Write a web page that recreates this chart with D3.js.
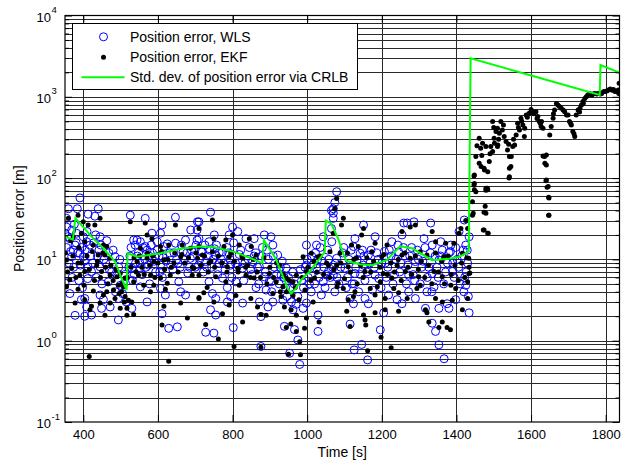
<!DOCTYPE html>
<html><head><meta charset="utf-8">
<script src="https://cdn.jsdelivr.net/npm/d3@7"></script>
<style>body{margin:0;background:#fff}svg{display:block}text{font-family:"Liberation Sans",Arial,sans-serif;fill:#000}</style>
</head><body><svg id="c" width="629" height="464"></svg>
<script>
const xTicks=[400,600,800,1000,1200,1400,1600,1800];
const yDecades=[-1,0,1,2,3,4];
const legendLabels=["Position error, WLS","Position error, EKF","Std. dev. of position error via CRLB"];
const xLabel="Time [s]", yLabel="Position error [m]";

const crlbTime=[351,372,379,400,427,454,485,505,516,519,544,607,660,714,746,809,854,880,884,916,948,957,970,984,1007,1047,1050,1064,1083,1096,1105,1140,1173,1213,1249,1281,1335,1380,1407,1433,1438,1600,1784,1786,1837];
const crlbStd=[19,17.5,32,25,18,13.7,9.4,5.5,4.2,11.9,10.8,11.9,13.5,14.4,14.3,12.2,10.1,9.0,17.3,10.1,4.4,3.8,4.4,5.6,7.1,12.3,30,27.8,18,12,9.6,8.7,8.5,9.8,14.5,13.7,9.8,10.2,10.7,12.5,2975,1830,1052,2460,1980];

const wlsPoints=[
[391,57],[360,42],[384,42],[440,42],[413,36],[355,32],[431,34],[526,35],[566,32],[647,33],[710,29],[355,25],[351,21],[369,23],[382,21],[364,18],[400,19],[409,16.5],[445,19],[378,15],[373,13],[391,11.9],[369,10.8],[400,10.8],[413,8.1],[422,7.1],[445,8.1],[485,10.8],[351,5.1],[467,5.3],[499,4.8],[535,17.3],[539,15],[553,16.5],[566,14.4],[571,13],[598,16.5],[607,21],[616,14.4],[647,15.8],[674,17.3],[705,23],[705,17.3],[656,5.3],[530,7.8],[553,7.8],[575,8.5],[607,8.5],[687,10.3],
[611,26.5],[688,23],[584,21],[544,17.3],[1074,50],[1065,40],
[364,3.8],[404,3.3],[395,3.2],[409,2.6],[445,3.65],[454,3.2],[449,2.5],[472,2.6],[494,3.3],[530,2.5],[378,2.05],[404,2.0],[422,2.07],[494,1.8],[571,3.0],[607,4.4],[620,3.65],[661,4.0],[674,3.65],[611,2.15],[629,1.42],[652,1.48],[553,4.6],
[741,38],[706,29],[710,18],[737,16.5],[751,20],[800,25],[814,22],[791,20],[836,18],[858,18],[885,20],[903,19],[908,15],[921,11.3],[773,12.4],[755,11.3],[719,12.4],[728,9.4],[764,9.0],[795,8.5],[827,7.8],[854,9.4],[872,8.1],[885,6.1],[903,5.3],[930,6.4],[944,7.8],[773,5.9],[809,5.3],[998,15],[1025,15],[1043,19],[1070,42],[1070,32],[1066,16.5],[998,8.5],[1025,7.8],[1011,6.4],[1043,5.3],[1057,7.1],[863,4.5],[737,5.3],[786,4.5],
[746,3.8],[755,3.3],[741,2.4],[755,2.07],[786,3.0],[795,3.5],[827,2.9],[872,3.0],[876,1.98],[895,2.6],[908,3.0],[935,3.15],[728,1.27],[750,1.24],[802,1.45],[876,0.85],[939,1.5],[966,1.37],[975,1.02],[953,0.70],[980,0.51],[989,2.5],[998,2.9],[1011,4.0],[1038,3.65],[1029,2.07],[1029,1.3],[890,4.2],[962,2.4],
[1079,68],[1070,37],[1065,24],[1151,26.5],[1128,18],[1124,14.4],[1142,11.9],[1182,19],[1164,11.3],[1227,16.5],[1259,28],[1268,28],[1286,29],[1331,28],[1313,18],[1335,15],[1358,16.5],[1385,15],[1407,22],[1421,30.5],[1425,15],[1430,9.0],[1254,20],[1245,12.4],[1079,10.3],[1101,7.8],[1128,6.7],[1182,6.4],[1151,8.5],[1209,9.0],[1290,9.4],[1353,9.8],[1389,7.1],[1070,6.4],[1272,6.4],[1335,6.7],[1425,4.8],[1434,19],
[1074,4.0],[1115,3.3],[1124,2.85],[1115,1.6],[1155,3.3],[1164,2.85],[1196,1.36],[1205,2.2],[1218,3.65],[1241,3.2],[1254,2.85],[1290,3.3],[1317,2.5],[1335,1.64],[1344,1.3],[1321,4.0],[1353,2.5],[1380,2.5],[1375,2.85],[1398,3.2],[1434,2.2],[1420,4.0],[1146,0.9],[1126,0.77],[1162,0.58],[1353,0.89],[1367,0.6],[1272,4.0],
[355,14],[362,9],[370,6],[376,27],[385,12],[392,8.5],[398,4.5],[405,13],[412,5.8],[420,11],[428,16],[435,6],[442,13],[450,5],[460,9],[468,12],[476,7],[486,4],[495,8],[505,3.8],[512,6.5],[525,11],[532,5.5],[540,9],[548,12],[558,6.5],[565,10],[578,5],[585,12],[594,7],[603,11],[612,6],[622,9.5],[632,12],[640,7.5],[650,10],[660,8],[668,12.5],[680,6.8],[690,13],[700,8],[712,10],[722,7],[733,11],[744,8],[752,13.5],[760,6.5],[770,10],[780,7.5],[790,12],[798,6],[808,9],[818,11.5],[830,5.5],[842,10],[852,6.5],[862,12],[870,5],[880,14],[888,7],[896,10],[905,4],[912,8],[925,5],[933,9.5],[942,4.5],[950,6],[958,3],[965,5],[975,3.5],[982,7.5],[990,4.5],[1000,10],[1006,5],[1015,8.5],[1022,12],[1032,6],[1040,9.5],[1048,4.5],[1055,13],[1062,6],[1075,9],[1085,5],[1095,12],[1105,4.5],[1112,10],[1120,5],[1130,8],[1138,4],[1148,13],[1155,5.5],[1168,9],[1175,4.2],[1186,12],[1192,5.8],[1200,9],[1212,6],[1220,13],[1230,5],[1238,10],[1248,7],[1258,14],[1266,5],[1275,11],[1284,6.5],[1295,13],[1303,5],[1310,9.5],[1322,6],[1330,12],[1340,4.6],[1348,8],[1358,11],[1366,5],[1376,9],[1384,12.5],[1394,6],[1402,10],[1410,5],[1418,13],[1426,7],[1432,3.5],
[358,19],[366,12.5],[374,8],[381,16],[388,5.5],[396,14],[403,9.5],[410,22],[418,15],[425,9],[433,20],[438,11],[447,15],[455,10],[463,17],[470,7.5],[480,13],[490,6.5],[498,10],[508,5],[515,3],[522,8],[528,14],[537,6.5],[545,11],[552,9],[560,14],[568,8],[576,11],[582,15],[590,9.5],[598,13],[605,7],[614,10.5],[625,15.5],[634,8.5],[643,12],[654,9],[663,15],[671,10],[678,12],[685,8],[694,11],[702,15],[709,8.5],[716,12.5],[726,15],[731,8],[739,13],[748,10],[757,15],[764,12],[776,9],[785,14],[793,10],[803,16],[812,8],[822,13],[833,9],[845,14],[849,7.5],[858,11],[867,8],[878,11],[892,13],[899,5.5],[909,11],[918,6.5],[928,8],[938,6],[946,3.5],[954,4.5],[961,7],[970,2.8],[985,5.5],[994,8],[1003,6],[1012,11],[1020,5],[1028,10],[1035,14],[1045,8],[1052,6.5],[1058,10],[1068,8],[1080,6],[1090,8],[1098,14],[1108,6],[1118,13],[1126,5],[1134,10],[1143,6.5],[1152,11],[1160,7],[1171,13],[1180,8],[1190,10],[1198,4.5],[1207,12.5],[1216,8],[1225,11],[1234,6.5],[1243,15],[1251,9],[1262,11],[1270,8.5],[1280,14],[1288,5.5],[1298,10],[1307,8],[1316,14],[1326,8],[1334,4],[1343,11],[1351,6],[1362,13],[1371,7],[1380,12],[1390,9],[1398,14],[1406,8],[1414,11],[1422,6],[1429,13]
];

const ekfPoints=[
[360,32],[386,35],[400,29],[413,26.5],[431,26.5],[445,32],[373,19],[395,21],[404,16.5],[427,15],[454,15],[463,14.4],[440,11.3],[458,11.3],[472,10.3],[369,7.8],[355,9.8],[386,9.0],[404,7.1],[436,8.5],[449,7.1],[472,6.4],[490,6.1],[499,6.7],[364,5.6],[391,6.4],[526,29],[647,26.5],[571,20],[584,18],[553,13.7],[607,14.4],[629,15],[665,15],[687,13.7],[710,14.4],[544,9.4],[571,10.3],[589,9.4],[616,9.8],[643,9.0],[661,10.8],[696,7.8],[548,6.4],[580,6.4],[607,5.9],[633,6.4],[692,6.4],[535,5.3],[562,4.8],[589,4.8],[625,5.1],[512,5.9],[494,4.8],
[566,28],[1425,30],
[386,4.3],[427,4.1],[463,4.0],[481,4.2],[503,4.0],[512,3.5],[521,3.15],[485,3.3],[454,3.65],[422,2.65],[418,2.4],[378,2.9],[404,3.2],[472,2.9],[499,2.5],[517,2.5],[530,3.0],[458,2.05],[517,2.05],[535,2.1],[580,4.0],[620,4.3],[661,2.9],[616,2.65],[679,1.9],[611,1.56],[710,3.4],[416,0.64],[629,0.56],[355,4.6],[445,2.9],[508,4.6],
[746,30.5],[710,24],[750,18],[782,17.3],[800,20],[818,15],[845,18],[850,14.4],[777,14.4],[719,11.3],[746,12.4],[791,10.8],[827,10.3],[863,11.3],[706,10.3],[737,9.0],[786,8.1],[814,7.8],[840,8.5],[710,6.4],[755,6.1],[782,5.3],[836,6.4],[858,5.9],[899,6.7],[926,8.5],[944,5.9],[989,10.8],[1011,11.9],[1029,10.8],[1061,12.4],[1070,21],[998,7.1],[971,6.4],[962,5.3],[1020,5.9],[1057,8.5],[732,4.5],[818,4.8],[917,5.3],
[710,3.3],[723,3.9],[750,3.0],[773,2.15],[791,2.75],[809,3.6],[849,3.3],[867,2.6],[876,2.1],[890,2.05],[827,1.7],[728,1.58],[762,1.05],[804,0.85],[876,0.83],[930,3.5],[939,2.6],[957,2.4],[971,2.05],[944,1.45],[956,1.6],[971,1.3],[993,1.42],[980,0.97],[950,0.68],[982,0.67],[1016,3.0],[1032,1.7],[998,1.9],[935,4.6],[908,3.8],
[1079,56],[1074,42],[1097,32],[1092,26.5],[1151,24],[1146,20],[1119,15],[1137,14.4],[1182,15.8],[1214,15],[1254,22],[1276,25],[1290,26.5],[1335,22],[1344,16.5],[1371,15.8],[1393,15.8],[1412,24],[1407,21],[1430,24],[1088,11.9],[1132,10.3],[1173,12.4],[1200,10.8],[1254,11.3],[1276,10.3],[1303,12.4],[1321,11.3],[1366,10.8],[1416,11.9],[1079,8.5],[1110,8.1],[1155,7.1],[1204,6.7],[1241,8.5],[1263,7.1],[1299,6.1],[1340,7.1],[1362,6.1],[1434,6.7],[1196,5.3],[1227,5.9],[1303,4.8],[1385,4.8],[1430,5.3],[1083,5.1],
[1097,4.4],[1128,4.0],[1110,3.2],[1124,3.5],[1169,4.4],[1182,3.65],[1209,3.3],[1232,4.4],[1245,3.9],[1268,3.3],[1106,2.3],[1151,2.07],[1155,1.8],[1182,2.2],[1209,2.4],[1245,2.3],[1115,1.5],[1157,1.56],[1198,1.1],[1225,0.82],[1162,0.75],[1317,2.4],[1321,2.2],[1326,1.7],[1362,1.7],[1353,1.45],[1375,1.45],[1384,1.36],[1344,3.3],[1362,3.0],[1389,3.15],[1416,2.4],[1430,3.3],[1294,4.4],[1398,4.4],
[352,12],[358,7],[366,17],[372,11],[380,6],[388,14],[395,9],[402,4.8],[410,11],[416,7.5],[424,12.5],[430,5.5],[438,9.5],[446,6],[452,12],[460,8],[466,5],[474,8.5],[480,5.5],[488,7.5],[496,3.8],[504,5],[510,3],[518,6],[528,8],[536,10.5],[542,7],[550,11],[557,8],[563,6.5],[572,12],[578,8.5],[586,11],[592,6],[600,9],[610,12.5],[618,7.5],[626,10],[636,8],[645,12],[654,7],[664,11.5],[672,9],[682,10.5],[692,8],[702,12],[715,8.5],[725,11],[735,7],[742,9.5],[752,8],[762,11],[772,9],[785,7],[795,12],[805,9.5],[815,7],[825,11],[835,8],[848,6],[856,10],[866,7],[875,6],[884,10.5],[892,5],[900,8],[910,6],[918,9],[928,4],[936,6.5],[945,4],[952,5.5],[962,3.6],[968,4.5],[978,3.2],[986,6],[994,4.2],[1002,8],[1010,5.5],[1018,9.5],[1026,7],[1035,11],[1044,6.5],[1052,9],[1060,6],[1072,7.5],[1080,4.6],[1090,9],[1100,5.8],[1108,12],[1116,7],[1125,10],[1134,5],[1143,8.5],[1150,6],[1160,10.5],[1170,7],[1178,9.5],[1188,4.6],[1195,8],[1206,11.5],[1215,6.5],[1224,9],[1234,7],[1244,10],[1252,5.5],[1262,12],[1270,8],[1280,6.5],[1290,11],[1298,7.5],[1306,9.5],[1315,6],[1325,8.5],[1334,5],[1344,12],[1352,7],[1360,9.5],[1368,5],[1378,11],[1386,6.5],[1396,8.5],[1405,5.5],[1414,9],[1422,6],[1428,10.5],[1434,8]
];

const ekfLatePoints=[
[1461,309],[1470,268],[1465,233],[1452,184],[1461,152],[1474,132],[1488,160],[1497,496],[1501,309],[1506,373],[1510,410],[1515,356],[1519,496],[1523,391],[1528,324],[1533,281],[1492,244],[1510,244],[1537,222],[1542,184],[1546,139],[1542,104],[1564,473],[1569,391],[1578,451],[1582,324],[1573,545],[1587,598],[1595,627],[1604,657],[1613,657],[1618,571],[1622,496],[1627,430],[1636,184],[1641,145],[1650,340],[1654,430],[1659,545],[1663,690],[1668,830],[1672,795],[1681,722],[1690,657],[1699,598],[1703,496],[1708,451],[1712,373],[1717,324],[1721,598],[1726,690],[1735,795],[1739,873],[1748,1000],[1757,1100],[1771,1100],[1780,1100],[1789,1100],[1798,1160],[1807,1210],[1816,1210],[1825,1160],[1834,1210],[1836,1470],[1835,1100],
[1466,139],[1475,126],[1484,120],[1479,245],[1448,109],[1448,86],[1448,72],[1443,51],[1445,37],[1479,75],[1484,72],[1477,45],[1479,37],[1472,23],[1484,21],[1556,256],[1560,340],[1551,245],[1547,184],[1542,132],[1632,187],[1641,193],[1637,152],[1648,57],[1648,35],[1646,79],[1641,95],[1794,1150],[1812,1250],[1821,1230],[1763,1050],[1740,830],[1731,723],[1695,598],[1628,496],[1632,410],[1583,410],[1502,269],[1497,212],[1511,256],
[1447,106],[1447,82],[1452,68],[1479,71],[1483,75],[1474,38],[1443,35],[1474,23],[1485,21],[1541,100],[1640,93],[1643,77],[1647,58],[1647,35],[1433,10.3],[1436,6.8],
[1455,250],[1468,190],[1490,200],[1500,420],[1513,300],[1526,450],[1540,260],[1553,300],[1566,420],[1575,500],[1590,560],[1600,700],[1608,620],[1616,540],[1625,470],[1660,620],[1676,760],[1686,690],[1706,470],[1715,350],[1730,650],[1744,950],[1752,1050],[1766,1080],[1776,1080],[1786,1080],[1803,1180],[1820,1200],[1830,1180]
];

const L=65,R=619.5,T=15.5,B=422;
const x=d3.scaleLinear().domain([351,1837]).range([L,R]);
const y=d3.scaleLog().domain([0.1,1e4]).range([B,T]);
const svg=d3.select('#c');

svg.append('defs').append('clipPath').attr('id','clip').append('rect')
  .attr('x',L).attr('y',T).attr('width',R-L).attr('height',B-T);

const minorVals=[];
yDecades.slice(0,-1).forEach(k=>{for(let m=2;m<10;m++)minorVals.push(+(m*Math.pow(10,k)).toPrecision(3));});
const majorVals=yDecades.map(k=>Math.pow(10,k));
const gridY=minorVals.concat(majorVals.slice(1,-1));

const grid=svg.append('g');
grid.selectAll('line.h').data(gridY).join('line')
  .attr('x1',L).attr('x2',R)
  .attr('y1',d=>Math.round(y(d))+0.5).attr('y2',d=>Math.round(y(d))+0.5)
  .attr('stroke','#2a2a2a').attr('stroke-width',1);
grid.selectAll('line.v').data(xTicks).join('line')
  .attr('y1',T).attr('y2',B)
  .attr('x1',d=>Math.round(x(d))+0.5).attr('x2',d=>Math.round(x(d))+0.5)
  .attr('stroke','#2a2a2a').attr('stroke-width',1);

const data=svg.append('g').attr('clip-path','url(#clip)');
data.append('g').selectAll('circle').data(wlsPoints).join('circle')
  .attr('cx',d=>x(d[0])).attr('cy',d=>y(d[1])).attr('r',4)
  .attr('fill','none').attr('stroke','#0000ff').attr('stroke-width',1);
data.append('g').selectAll('circle').data(ekfPoints.concat(ekfLatePoints)).join('circle')
  .attr('cx',d=>x(d[0])).attr('cy',d=>y(d[1])).attr('r',2.5).attr('fill','#000');
const line=d3.line().x(d=>x(d[0])).y(d=>y(d[1]));
data.append('path').datum(crlbTime.map((t,i)=>[t,crlbStd[i]]))
  .attr('d',line).attr('fill','none').attr('stroke','#00ff00').attr('stroke-width',2);

const fmtNone=()=>"";
const gx=svg.append('g').attr('transform',`translate(0,${B})`)
  .call(d3.axisBottom(x).tickValues(xTicks).tickSize(-7).tickSizeOuter(0).tickPadding(8).tickFormat(d3.format('d')));
svg.append('g').attr('transform',`translate(0,${T})`)
  .call(d3.axisTop(x).tickValues(xTicks).tickSize(-7).tickSizeOuter(0).tickFormat(fmtNone));
svg.append('g').attr('transform',`translate(${L},0)`)
  .call(d3.axisLeft(y).tickValues(majorVals).tickSize(-7).tickSizeOuter(0).tickFormat(fmtNone));
svg.append('g').attr('transform',`translate(${L},0)`)
  .call(d3.axisLeft(y).tickValues(minorVals).tickSize(-4).tickSizeOuter(0).tickFormat(fmtNone));
svg.append('g').attr('transform',`translate(${R},0)`)
  .call(d3.axisRight(y).tickValues(majorVals).tickSize(-7).tickSizeOuter(0).tickFormat(fmtNone));
svg.append('g').attr('transform',`translate(${R},0)`)
  .call(d3.axisRight(y).tickValues(minorVals).tickSize(-4).tickSizeOuter(0).tickFormat(fmtNone));
svg.selectAll('.domain').remove();
svg.selectAll('.tick line').attr('stroke','#000');
gx.selectAll('text').attr('font-size',13).attr('font-family','"Liberation Sans",Arial,sans-serif').attr('fill','#000');

const yl=svg.append('g');
yDecades.forEach(k=>{
  const yy=y(Math.pow(10,k));
  yl.append('text').attr('x',51).attr('y',yy+6).attr('text-anchor','end').attr('font-size',13).text('10');
  yl.append('text').attr('x',51.5).attr('y',yy-2.5).attr('font-size',9.5).text(String(k));
});

svg.append('rect').attr('x',L).attr('y',T).attr('width',R-L).attr('height',B-T)
  .attr('fill','none').attr('stroke','#000').attr('stroke-width',1.2);

svg.append('text').attr('x',(L+R)/2).attr('y',457).attr('text-anchor','middle').attr('font-size',14).text(xLabel);
svg.append('text').attr('transform',`translate(23.5,${(T+B)/2}) rotate(-90)`).attr('text-anchor','middle').attr('font-size',14).text(yLabel);

const lg=svg.append('g');
lg.append('rect').attr('x',72.5).attr('y',23.5).attr('width',285).attr('height',66)
  .attr('fill','#fff').attr('stroke','#000').attr('stroke-width',1);
const ly=[36.8,57.3,77.3];
lg.append('circle').attr('cx',103.5).attr('cy',ly[0]).attr('r',4).attr('fill','none').attr('stroke','#0000ff');
lg.append('circle').attr('cx',103.5).attr('cy',ly[1]).attr('r',2.5).attr('fill','#000');
lg.append('line').attr('x1',81.5).attr('x2',124.5).attr('y1',ly[2]).attr('y2',ly[2]).attr('stroke','#00ff00').attr('stroke-width',2);
legendLabels.forEach((s,i)=>lg.append('text').attr('x',130).attr('y',ly[i]+5).attr('font-size',14).text(s));
</script></body></html>
